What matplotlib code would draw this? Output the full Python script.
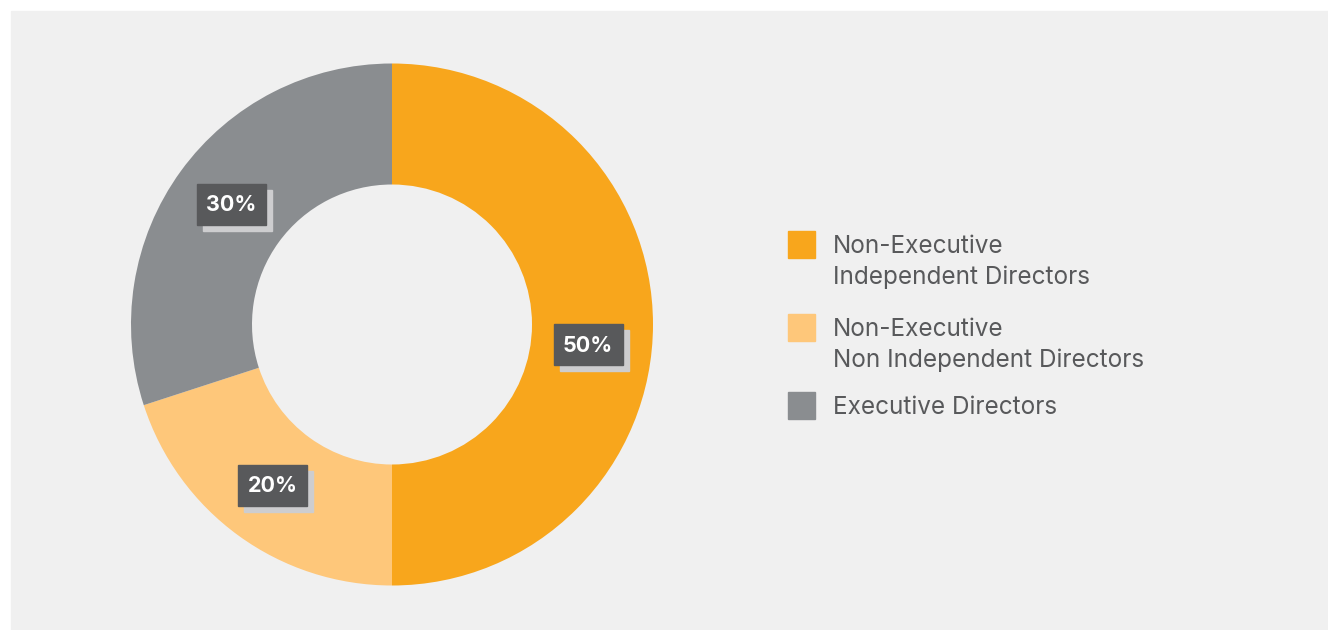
import numpy as np
import matplotlib
matplotlib.use("Agg")
import matplotlib.pyplot as plt
from matplotlib.patches import Rectangle

plt.rcParams['font.family'] = ['Inter', 'DejaVu Sans']

categories = ['Non-Executive\nIndependent Directors',
              'Non-Executive\nNon Independent Directors',
              'Executive Directors']
shares = [50, 20, 30]
pct_labels = ['50%', '20%', '30%']
colors = ['#F8A61C', '#FEC77A', '#8A8D90']

W, H = 1328, 630
fig = plt.figure(figsize=(W / 100, H / 100), dpi=100, facecolor='white')
ax = fig.add_axes([0, 0, 1, 1])
ax.set_axis_off()

# grey panel
ax.add_patch(Rectangle((11, 0), W - 11, H - 11, color='#F0F0F0', zorder=0))

cx, cy, R = 392, 305.5, 261
wedges, _ = ax.pie(shares, colors=colors, startangle=90, counterclock=False,
                   center=(cx, cy), radius=R,
                   wedgeprops=dict(width=121, linewidth=0))
ax.set_xlim(0, W)
ax.set_ylim(0, H)
ax.set_aspect('equal')

# percentage boxes
label_offsets = [(0, -20), (-4, -2), (-2, 5)]
bw, bh = 69, 41
for w, txt, (dx, dy) in zip(wedges, pct_labels, label_offsets):
    mid = np.deg2rad((w.theta1 + w.theta2) / 2)
    x = cx + 196 * np.cos(mid) + dx
    y = cy + 196 * np.sin(mid) + dy
    ax.add_patch(Rectangle((x - bw / 2 + 6, y - bh / 2 - 6), bw, bh,
                           color='#CDCDCF', zorder=3))
    ax.add_patch(Rectangle((x - bw / 2, y - bh / 2), bw, bh,
                           color='#58595B', zorder=4))
    ax.text(x, y - 1, txt, color='white', fontsize=15.5, fontweight='bold',
            ha='center', va='center', zorder=5)

# legend
leg_tops = [231, 314, 392]
for top, lab, col in zip(leg_tops, categories, colors):
    ax.add_patch(Rectangle((788, H - top - 27), 27, 27, color=col))
    ax.text(833, H - top - 4, lab, color='#58595B', fontsize=17.5,
            ha='left', va='top', linespacing=1.42)

fig.savefig('out.png', dpi=100, facecolor='white')
